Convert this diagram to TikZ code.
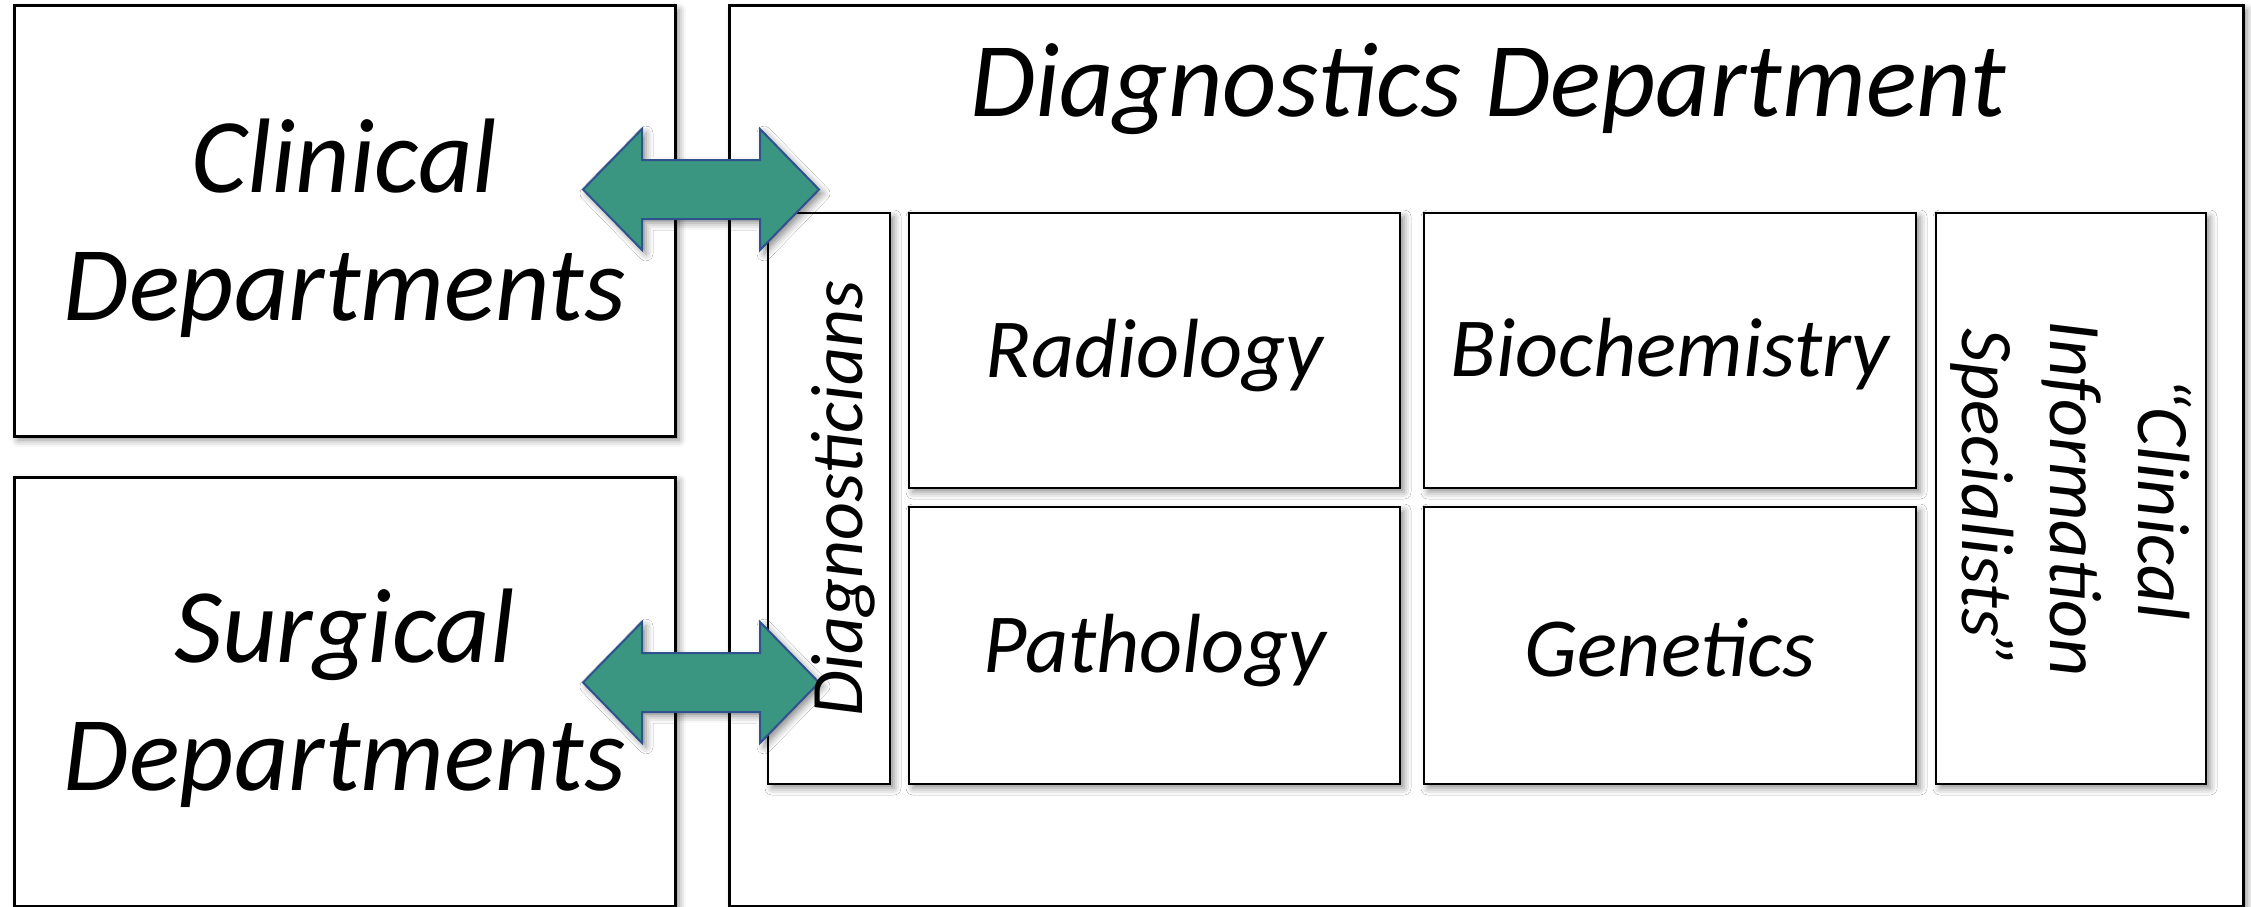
\documentclass[tikz,border=0pt]{standalone}
\usepackage{fontspec}
\setmainfont{Carlito}
\usetikzlibrary{shadows.blur}
\definecolor{arrowfill}{RGB}{58,150,128}
\definecolor{arrowline}{RGB}{47,82,143}
\begin{document}
\begin{tikzpicture}[x=1pt,y=-1pt,
  softshadow/.style={blur shadow={shadow xshift=4pt, shadow yshift=-4pt,
      shadow blur radius=7pt, shadow opacity=45}},
  panel/.style={draw=black, line width=3pt, fill=white, softshadow,
      anchor=north west, inner sep=0pt, outer sep=0pt},
  unitbox/.style={panel, line width=2.6pt},
  bigtext/.style={font=\itshape\fontsize{106}{128}\selectfont, align=center, inner sep=0pt},
  unittext/.style={font=\itshape\fontsize{84}{100}\selectfont, align=center, inner sep=0pt},
  sidetext/.style={font=\itshape\fontsize{74}{88}\selectfont, align=center, inner sep=0pt},
  linkshape/.style={draw=arrowline, line width=2pt, fill=arrowfill,
      line join=miter, softshadow}
]
\useasboundingbox (0,0) rectangle (2251,907);

% outer departments
\node[panel, minimum width=661pt, minimum height=430pt] (clinical) at (14,6) {};
\node[panel, minimum width=661pt, minimum height=429pt] (surgical) at (14,477) {};
\node[panel, minimum width=1514pt, minimum height=900pt] (diag) at (729,6) {};

% units inside the diagnostics department
\node[unitbox, minimum width=122pt, minimum height=571pt] (dgn) at (768,213) {};
\node[unitbox, minimum width=491pt, minimum height=275pt] (rad) at (909,213) {};
\node[unitbox, minimum width=491pt, minimum height=277pt] (path) at (909,507) {};
\node[unitbox, minimum width=492pt, minimum height=275pt] (bio) at (1424,213) {};
\node[unitbox, minimum width=492pt, minimum height=277pt] (gen) at (1424,507) {};
\node[unitbox, minimum width=270pt, minimum height=571pt] (cis) at (1936,213) {};

% two-way block arrows between the clinical side and diagnostics
\coordinate (linkA) at (701,189.5);
\coordinate (linkB) at (701,682.5);
\foreach \c in {linkA,linkB}{
  \draw[linkshape, shift={(\c)}]
    (-118,0) -- (-59,-60.5) -- (-59,-29.5) -- (59,-29.5) -- (59,-60.5)
    -- (118,0) -- (59,60.5) -- (59,29.5) -- (-59,29.5) -- (-59,60.5) -- cycle;
}

% labels
\node[bigtext] (tclin) at ([yshift=-7pt]clinical.center) {Clinical\\Departments};
\node[bigtext] (tsurg) at ([yshift=-7pt]surgical.center) {Surgical\\Departments};
\node[bigtext, anchor=base] (tdiag) at (1488,116) {Diagnostics Department};
\node[unittext] (trad) at ([yshift=-5pt]rad.center) {Radiology};
\node[unittext] (tpath) at ([yshift=-5pt]path.center) {Pathology};
\node[unittext] (tbio) at ([yshift=-4pt]bio.center) {Biochemistry};
\node[unittext] (tgen) at ([yshift=-2pt]gen.center) {Genetics};
\node[sidetext, rotate=90] (tdgn) at ([xshift=14pt]dgn.center) {Diagnosticians};
\node[sidetext, rotate=-90] (tcis) at (cis.center) {“Clinical\\Information\\Specialists”};
\end{tikzpicture}
\end{document}
